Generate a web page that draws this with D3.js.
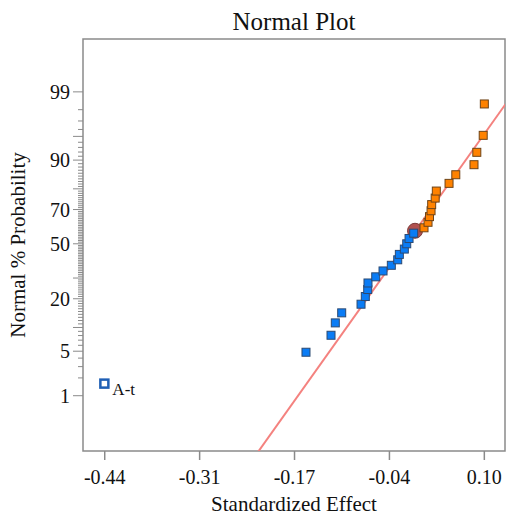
<!DOCTYPE html>
<html>
<head>
<meta charset="utf-8">
<script src="https://cdn.jsdelivr.net/npm/d3@7"></script>
<style>
  html, body { margin: 0; padding: 0; background: #fff; }
</style>
</head>
<body>
<svg id="chart" width="506" height="516" font-family="'Liberation Serif', 'Times New Roman', Times, 'DejaVu Serif', serif"></svg>
<script>
// ---- data ----
const effects = [-0.4405, -0.1537, -0.1181, -0.1120, -0.1029, -0.0754, -0.0693, -0.0659, -0.0655,
  -0.0545, -0.0441, -0.0323, -0.0232, -0.0209, -0.0138, -0.0104, -0.0071, -0.0005,
  0.0142, 0.0199, 0.0220, 0.0242, 0.0251, 0.0301, 0.0317, 0.0498, 0.0594, 0.0853, 0.0893, 0.0984, 0.1000];
const termNames = ["A-t"];               // name of the labelled (selected) term, by rank
const xTickValues = [-0.44, -0.305, -0.17, -0.035, 0.10];
const xTickLabels = ["-0.44", "-0.31", "-0.17", "-0.04", "0.10"];
const yMajorTicks = [1, 5, 10, 20, 30, 50, 70, 80, 90, 95, 99];
const yTickLabels = [1, 5, 20, 50, 70, 90, 99];
const fitLine = { mean: -0.0112, sd: 0.0661 };
const markerEffect = [0.0014];
const markerPercent = [57.9];

// inverse normal CDF (Acklam)
function qnorm(p) {
  const a = [-3.969683028665376e+01, 2.209460984245205e+02, -2.759285104469687e+02, 1.383577518672690e+02, -3.066479806614716e+01, 2.506628277459239e+00];
  const b = [-5.447609879822406e+01, 1.615858368580409e+02, -1.556989798598866e+02, 6.680131188771972e+01, -1.328068155288572e+01];
  const c = [-7.784894002430293e-03, -3.223964580411365e-01, -2.400758277161838e+00, -2.549732539343734e+00, 4.374664141464968e+00, 2.938163982698783e+00];
  const d = [7.784695709041462e-03, 3.224671290700398e-01, 2.445134137142996e+00, 3.754408661907416e+00];
  const pl = 0.02425, ph = 1 - pl;
  let q, r;
  if (p < pl) { q = Math.sqrt(-2 * Math.log(p));
    return (((((c[0]*q+c[1])*q+c[2])*q+c[3])*q+c[4])*q+c[5]) / ((((d[0]*q+d[1])*q+d[2])*q+d[3])*q+1); }
  if (p <= ph) { q = p - 0.5; r = q*q;
    return (((((a[0]*r+a[1])*r+a[2])*r+a[3])*r+a[4])*r+a[5])*q / (((((b[0]*r+b[1])*r+b[2])*r+b[3])*r+b[4])*r+1); }
  q = Math.sqrt(-2 * Math.log(1 - p));
  return -(((((c[0]*q+c[1])*q+c[2])*q+c[3])*q+c[4])*q+c[5]) / ((((d[0]*q+d[1])*q+d[2])*q+d[3])*q+1);
}

// ---- layout ----
const svg = d3.select("#chart");
const FONT = "Liberation Serif";
const L = 83, R = 505, T = 39, B = 451;
const x = d3.scaleLinear().domain([-0.4709, 0.1294]).range([L, R]);
const y = d3.scaleLinear().domain([-3.173, 3.136]).range([B, T]);   // probit (z) scale
const yp = pct => y(qnorm(pct / 100));

const n = effects.length;
const sorted = effects.map((e, i) => ({ e, name: termNames[i] || "" }))
  .sort((a, b) => a.e - b.e)
  .map((d, i) => ({ ...d, pct: 100 * (i + 0.5) / n }));

const grey = "#8a8a8a";
const txt = "#111";

// plot frame
svg.append("rect").attr("x", L).attr("y", T).attr("width", R - L).attr("height", B - T)
  .attr("fill", "none").attr("stroke", grey).attr("stroke-width", 1.5);

// x axis ticks
const xg = svg.append("g");
xTickValues.forEach((v, i) => {
  xg.append("line").attr("x1", x(v)).attr("x2", x(v)).attr("y1", B).attr("y2", B + 9)
    .attr("stroke", grey).attr("stroke-width", 1.5);
  xg.append("text").attr("x", x(v)).attr("y", B + 33).attr("text-anchor", "middle")
    .attr("font-family", FONT).attr("fill", txt)
    .attr("font-size", 20).text(xTickLabels[i]);
});

// y axis ticks
const yg = svg.append("g");
d3.range(1, 100).forEach(p => {
  const major = yMajorTicks.includes(p);
  yg.append("line").attr("x1", L - (major ? 10 : 5)).attr("x2", L)
    .attr("y1", yp(p)).attr("y2", yp(p))
    .attr("stroke", grey).attr("stroke-width", 1);
});
yTickLabels.forEach(p => {
  yg.append("text").attr("x", 70).attr("y", yp(p)).attr("dy", "0.35em")
    .attr("font-family", FONT).attr("fill", txt)
    .attr("text-anchor", "end").attr("font-size", 20).text(p);
});

// titles
svg.append("text").attr("x", (L + R) / 2).attr("y", 30).attr("text-anchor", "middle")
  .attr("font-family", FONT).attr("fill", txt)
  .attr("font-size", 25).text("Normal Plot");
svg.append("text").attr("x", (L + R) / 2).attr("y", 511).attr("text-anchor", "middle")
  .attr("font-family", FONT).attr("fill", txt)
  .attr("font-size", 21).text("Standardized Effect");
svg.append("text").attr("transform", `translate(25,${(T + B) / 2}) rotate(-90)`)
  .attr("font-family", FONT).attr("fill", txt)
  .attr("text-anchor", "middle").attr("font-size", 21).text("Normal % Probability");

// clip
svg.append("clipPath").attr("id", "clip").append("rect")
  .attr("x", L).attr("y", T).attr("width", R - L).attr("height", B - T);

// fitted line
const zs = [-3.4, 3.4];
svg.append("line").attr("clip-path", "url(#clip)")
  .attr("x1", x(fitLine.mean + zs[0] * fitLine.sd)).attr("y1", y(zs[0]))
  .attr("x2", x(fitLine.mean + zs[1] * fitLine.sd)).attr("y2", y(zs[1]))
  .attr("stroke", "#f4827f").attr("stroke-width", 2);

// marker circle
markerEffect.forEach((e, i) => {
  svg.append("circle").attr("cx", x(e)).attr("cy", yp(markerPercent[i])).attr("r", 7.5)
    .attr("fill", "#b0514f").attr("stroke", "#7d3a38").attr("stroke-width", 1);
});

// points
const s = 8;
svg.append("g").selectAll("rect").data(sorted).join("rect")
  .attr("x", d => x(d.e) - s / 2).attr("y", d => yp(d.pct) - s / 2)
  .attr("width", s).attr("height", s)
  .attr("fill", d => d.name ? "#fff" : (d.e < 0 ? "#0a7cf5" : "#ff8200"))
  .attr("stroke", d => d.name ? "#1f5fb5" : (d.e < 0 ? "#2c4a72" : "#6e4418"))
  .attr("stroke-width", d => d.name ? 2.5 : 1);

// labels
svg.append("g").selectAll("text").data(sorted.filter(d => d.name)).join("text")
  .attr("x", d => x(d.e) + 8).attr("y", d => yp(d.pct) + 11)
  .attr("font-family", FONT).attr("fill", txt)
  .attr("font-size", 17).text(d => d.name);
</script>
</body>
</html>
